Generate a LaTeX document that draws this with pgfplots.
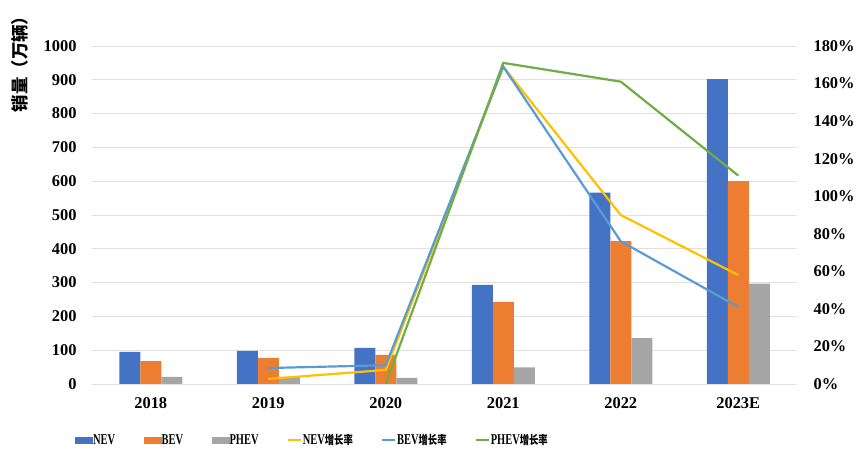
\documentclass[border=0pt]{standalone}
\usepackage{pgfplots}
\pgfplotsset{compat=1.18}
\usepackage{fontspec}
\setmainfont{Liberation Serif}
\newfontfamily\cjk{Noto Sans CJK SC}
\newfontfamily\legfont{Liberation Serif}[FakeStretch=0.7]
\newfontfamily\cjkleg{Noto Sans CJK SC}[FakeStretch=0.78]
\definecolor{nevblue}{HTML}{4472C4}
\definecolor{bevorange}{HTML}{ED7D31}
\definecolor{phevgray}{HTML}{A5A5A5}
\definecolor{nevyellow}{HTML}{FFC000}
\definecolor{bevline}{HTML}{5B9BD5}
\definecolor{phevgreen}{HTML}{70AD47}
\begin{document}
\begin{tikzpicture}[x=1bp,y=1bp]
\useasboundingbox (0,0) rectangle (857,453);
\begin{axis}[at={(92bp,69bp)}, anchor=south west, scale only axis,
  width=705bp, height=338bp,
  xmin=-0.5, xmax=5.5, ymin=0, ymax=1000,
  ytick={0,100,...,1000}, xtick={0,...,5},
  xticklabels={2018,2019,2020,2021,2022,2023E},
  axis x line*=bottom, axis y line*=left, axis line style={draw=none},
  major tick length=0pt,
  ymajorgrids, grid style={draw=black!12, line width=0.8bp},
  ybar=0pt, bar width=21bp,
  tick label style={font=\bfseries\fontsize{16.5}{18}\selectfont},
  /pgf/number format/assume math mode=true,
  /pgf/number format/1000 sep={},
  yticklabel style={anchor=east, xshift=-12bp},
  xticklabel style={yshift=-10bp},
]
\addplot[fill=nevblue, draw=none] coordinates {(0,95) (1,98) (2,107) (3,293) (4,566) (5,902)};
\addplot[fill=bevorange, draw=none] coordinates {(0,68) (1,77) (2,86) (3,243) (4,423) (5,600)};
\addplot[fill=phevgray, draw=none] coordinates {(0,21) (1,21) (2,18) (3,49) (4,136) (5,297)};
\end{axis}
\begin{axis}[at={(92bp,69bp)}, anchor=south west, scale only axis,
  width=705bp, height=338bp,
  xmin=-0.5, xmax=5.5, ymin=0, ymax=180,
  ytick={0,20,...,180}, xtick=\empty,
  axis x line=none, axis y line*=right, axis line style={draw=none},
  major tick length=0pt,
  yticklabel={\pgfmathprintnumber{\tick}\%},
  tick label style={font=\bfseries\fontsize{16.5}{18}\selectfont},
  /pgf/number format/assume math mode=true,
  yticklabel style={anchor=west, xshift=13bp},
  legend columns=6,
  legend style={at={(-0.024,-0.166)}, anchor=west, draw=none, fill=none,
    font=\legfont\bfseries\fontsize{15}{17}\selectfont, inner sep=0pt,
    nodes={inner sep=0.5bp},
    /tikz/every odd column/.append style={column sep=0bp},
    /tikz/every even column/.append style={column sep=28bp}},
]
\addlegendimage{legend image code/.code={\fill[nevblue] (0bp,-3bp) rectangle (17bp,3bp);}}
\addlegendentry{NEV}
\addlegendimage{legend image code/.code={\fill[bevorange] (0bp,-3bp) rectangle (17bp,3bp);}}
\addlegendentry{BEV}
\addlegendimage{legend image code/.code={\fill[phevgray] (0bp,-3bp) rectangle (17bp,3bp);}}
\addlegendentry{PHEV}
\pgfplotsset{legend image code/.code={\draw[#1] (0bp,0bp) -- (13bp,0bp);}}
\addplot[nevyellow, line width=2.2bp, mark=none] coordinates {(1,2.7) (2,7.5) (3,169) (4,90) (5,58)};
\addlegendentry{NEV{\cjkleg\fontsize{12}{14}\selectfont 增长率}}
\addplot[bevline, line width=2.2bp, mark=none] coordinates {(1,8.5) (2,10) (3,169) (4,76) (5,41)};
\addlegendentry{BEV{\cjkleg\fontsize{12}{14}\selectfont 增长率}}
\addplot[phevgreen, line width=2.2bp, mark=none] coordinates {(2,0) (3,171) (4,161) (5,111)};
\addlegendentry{PHEV{\cjkleg\fontsize{12}{14}\selectfont 增长率}}
\end{axis}
\node[rotate=90, font=\cjk\bfseries\fontsize{17.5}{19}\selectfont] at (20,393) {销量（万辆）};
\end{tikzpicture}
\end{document}
